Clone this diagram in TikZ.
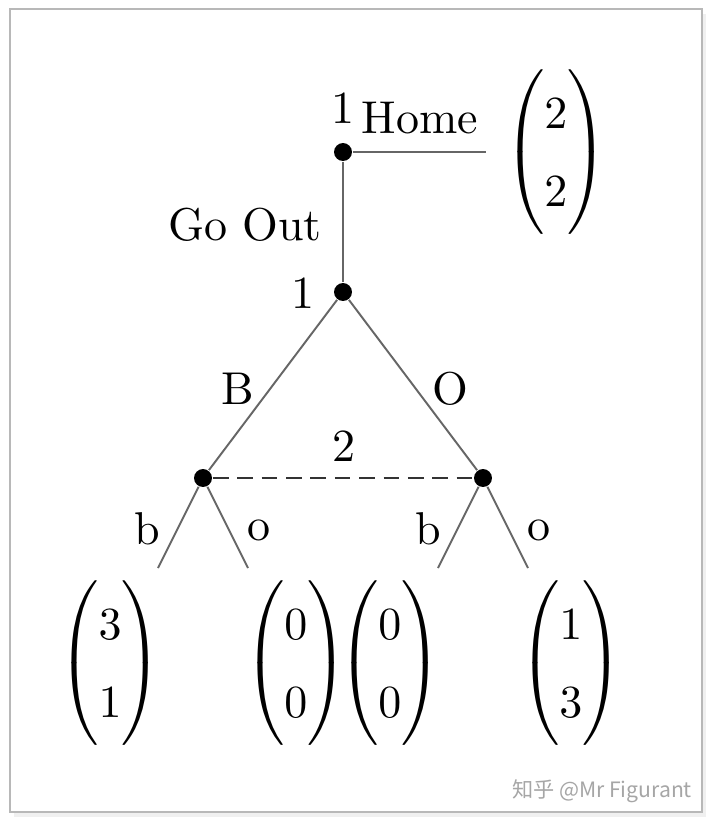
\documentclass[tikz,border=0pt]{standalone}
\usepackage{amsmath}
\usepackage{fontspec}
\newfontfamily\cjk{Noto Sans CJK SC}
\newcommand{\payoff}[2]{$\def\arraystretch{1.4}\begin{pmatrix}#1\\#2\end{pmatrix}$}
\begin{document}
\begin{tikzpicture}[x=0.2174pt,y=-0.2174pt,
  dot/.style={circle,fill=black,inner sep=0pt,minimum size=3.9pt},
  edge/.style={draw=black!60,line width=0.42pt},
  infoset/.style={draw=black!80,line width=0.42pt,dash pattern=on 3.4pt off 1.9pt},
  lbl/.style={anchor=base,inner sep=0pt},
  pay/.style={inner sep=0pt}]
\useasboundingbox (0,0) rectangle (714,823);
% frame
\fill[black!6] (14,14) rectangle (706,817);
\fill[white] (10,9) rectangle (702,812);
\draw[black!28,line width=0.5pt] (10,9) rectangle (702,812);
% decision nodes
\node[dot] (n0) at (343,152) {};
\node[dot] (n1) at (343,292) {};
\node[dot] (nl) at (203,478) {};
\node[dot] (nr) at (483,478) {};
% free ends
\coordinate (home) at (486,152);
\coordinate (lb) at (158,568);
\coordinate (lo) at (248,568);
\coordinate (rb) at (438,568);
\coordinate (ro) at (528,568);
% connectors
\draw[edge] (n0) -- (home);
\draw[edge] (n0) -- (n1);
\draw[edge] (n1) -- (nl);
\draw[edge] (n1) -- (nr);
\draw[infoset] (nl) -- (nr);
\draw[edge] (nl) -- (lb);
\draw[edge] (nl) -- (lo);
\draw[edge] (nr) -- (rb);
\draw[edge] (nr) -- (ro);
% labels
\node[lbl] (p1a) at (343,123) {1};
\node[lbl] (thome) at (420,133) {Home};
\node[lbl] (tgo) at (245,240) {Go Out};
\node[lbl] (p1b) at (303,308) {1};
\node[lbl] (tB) at (238,404) {B};
\node[lbl] (tO) at (450,404) {O};
\node[lbl] (p2) at (344,461) {2};
\node[lbl] (tlb) at (147,544) {b};
\node[lbl] (tlo) at (259,540) {o};
\node[lbl] (trb) at (428,544) {b};
\node[lbl] (tro) at (539,540) {o};
% payoffs
\node[pay] (u0) at (556,152) {\payoff{2}{2}};
\node[pay] (u1) at (110,663) {\payoff{3}{1}};
\node[pay] (u2) at (296,663) {\payoff{0}{0}};
\node[pay] (u3) at (390,663) {\payoff{0}{0}};
\node[pay] (u4) at (571,663) {\payoff{1}{3}};
% watermark
\node[inner sep=0pt,text=black!35,font=\cjk\fontsize{4.6pt}{5pt}\selectfont] (wm) at (602,791) {知乎 @Mr Figurant};
\end{tikzpicture}
\end{document}
